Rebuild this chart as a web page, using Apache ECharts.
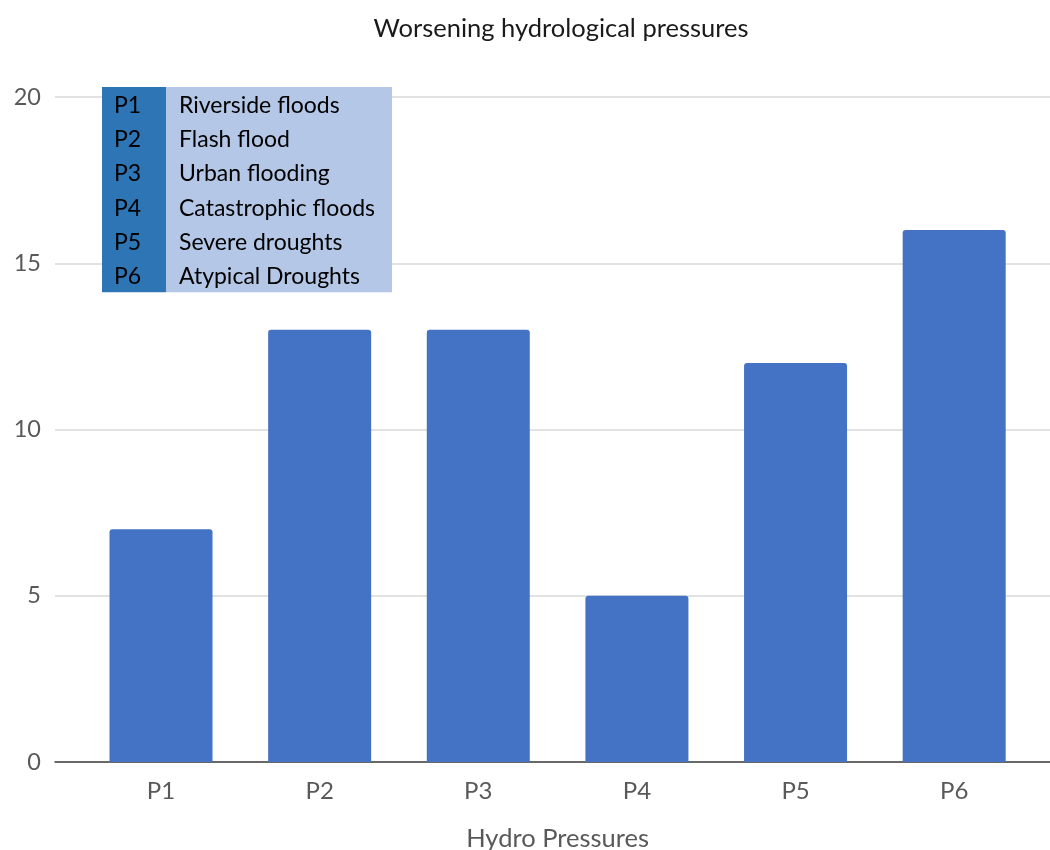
<!DOCTYPE html>
<html>
<head>
<meta charset="utf-8">
<script src="https://cdn.jsdelivr.net/npm/echarts@6/dist/echarts.min.js"></script>
<style>
  html, body { margin: 0; padding: 0; background: #fff; }
  #chart { width: 1050px; height: 850px; }
</style>
</head>
<body>
<div id="chart"></div>
<script>
// Pressure codes and their values
const categories = ['P1', 'P2', 'P3', 'P4', 'P5', 'P6'];
const values = [7, 13, 13, 5, 12, 16];
// Full names shown in the key table
const pressureNames = ['Riverside floods', 'Flash flood', 'Urban flooding', 'Catastrophic floods', 'Severe droughts', 'Atypical Droughts'];
const yTicks = [0, 5, 10, 15, 20];

const FONT = 'Lato';
const chart = echarts.init(document.getElementById('chart'));

// Key table: code column + name column
const rowH = 34.2, tableX = 102, tableY = 87, codeW = 64, nameW = 226;
const keyElements = [];
keyElements.push({ type: 'rect', z: 100, shape: { x: tableX, y: tableY, width: codeW, height: rowH * categories.length }, style: { fill: '#2E75B6' } });
keyElements.push({ type: 'rect', z: 100, shape: { x: tableX + codeW, y: tableY, width: nameW, height: rowH * categories.length }, style: { fill: '#B4C7E7' } });
categories.forEach((c, i) => {
  const cy = tableY + rowH * (i + 0.5) + 1.5;
  keyElements.push({ type: 'text', z: 101, x: tableX + 12, y: cy, style: { text: c, fill: '#000', font: '23px ' + FONT, verticalAlign: 'middle' } });
  keyElements.push({ type: 'text', z: 101, x: tableX + codeW + 13, y: cy, style: { text: pressureNames[i], fill: '#000', font: '23px ' + FONT, verticalAlign: 'middle' } });
});

chart.setOption({
  animation: false,
  textStyle: { fontFamily: FONT },
  title: {
    text: 'Worsening hydrological pressures',
    left: 556, top: 11, textAlign: 'center',
    textStyle: { fontFamily: FONT, fontSize: 25.5, fontWeight: 'normal', color: '#1a1a1a' }
  },
  grid: [
    // frame for gridlines and the baseline
    { left: 55, right: 0, top: 97, height: 665, outerBoundsMode: 'none', containLabel: false },
    // area holding the bars
    { left: 81.7, width: 951.8, top: 97, height: 665, outerBoundsMode: 'none', containLabel: false }
  ],
  xAxis: [
    {
      gridIndex: 0, type: 'category', data: categories,
      axisLine: { lineStyle: { color: '#404040', width: 1.5 } },
      axisTick: { show: false }, axisLabel: { show: false }
    },
    {
      gridIndex: 1, type: 'category', data: categories,
      axisLine: { show: false }, axisTick: { show: false },
      axisLabel: { fontFamily: FONT, fontSize: 24, color: '#595959', margin: 17 },
      name: 'Hydro Pressures', nameLocation: 'middle', nameGap: 64,
      nameTextStyle: { fontFamily: FONT, fontSize: 25.5, color: '#595959' }
    }
  ],
  yAxis: [
    {
      gridIndex: 0, type: 'value', min: yTicks[0], max: yTicks[yTicks.length - 1], interval: 5,
      axisLine: { show: false }, axisTick: { show: false },
      axisLabel: { fontFamily: FONT, fontSize: 23.5, color: '#595959', margin: 14 },
      splitLine: { lineStyle: { color: '#d9d9d9', width: 1.5 } }
    },
    {
      gridIndex: 1, type: 'value', min: yTicks[0], max: yTicks[yTicks.length - 1], interval: 5,
      show: false, splitLine: { show: false }
    }
  ],
  series: [{
    type: 'bar', xAxisIndex: 1, yAxisIndex: 1,
    data: values, barWidth: 103,
    itemStyle: { color: '#4472C4', borderRadius: [3, 3, 0, 0] }
  }],
  graphic: keyElements
});
</script>
</body>
</html>
